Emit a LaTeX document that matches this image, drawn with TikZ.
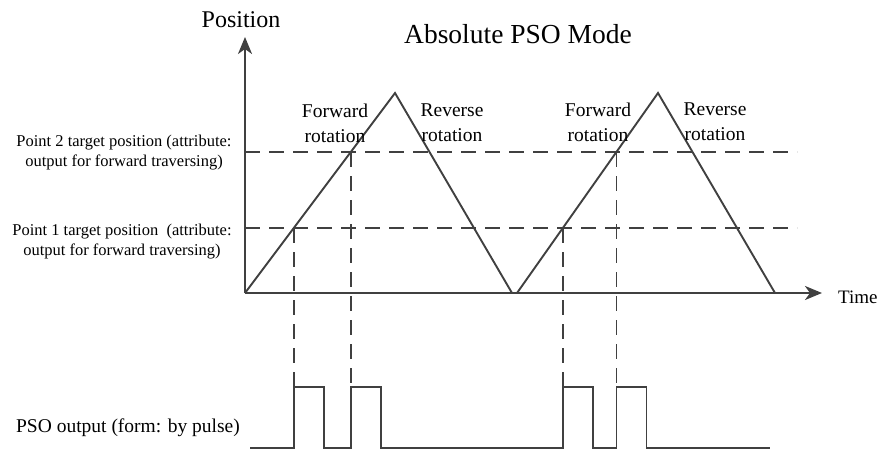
\documentclass[tikz,border=0pt]{standalone}
\usepackage{fontspec}
\setmainfont{Liberation Serif}
\usepackage{tikz}
\usetikzlibrary{arrows.meta, positioning}
\definecolor{trazo}{HTML}{404040}

\begin{document}
\begin{tikzpicture}[
  x=1pt, y=-1pt,
  eje/.style={-{Stealth[length=17pt, width=14pt, inset=5pt]}, line width=2.2pt, trazo},
  onda/.style={line width=1.9pt, trazo},
  guia/.style={line width=1.9pt, trazo, dash pattern=on 15pt off 9pt},
  pulso/.style={line width=1.9pt, trazo},
  etiq/.style={align=center, inner sep=0pt, font=\fontsize{19.5}{25}\selectfont},
  nivel/.style={align=center, inner sep=0pt, font=\fontsize{16.5}{20}\selectfont},
]
\useasboundingbox (0,0) rectangle (882,452);

% Ejes
\coordinate (O) at (245,293);
\coordinate (ytip) at (245,37);
\coordinate (xtip) at (822,293);
\draw[eje] (O) -- (ytip);
\draw[eje] (O) -- (xtip);
\node[inner sep=0pt, font=\fontsize{24}{28}\selectfont] (pos) at (241,20) {Position};
\node[inner sep=0pt, anchor=west, font=\fontsize{19}{22}\selectfont] (time) at (838,297) {Time};
\node[inner sep=0pt, font=\fontsize{27.5}{32}\selectfont] (titulo) at (518,34) {Absolute PSO Mode};

% Onda triangular
\coordinate (pk1) at (395,93);
\coordinate (v1) at (512,293);
\coordinate (s2) at (517,293);
\coordinate (pk2) at (658,93);
\coordinate (v2) at (775,293);
\draw[onda] (O) -- (pk1) -- (v1);
\draw[onda] (s2) -- (pk2) -- (v2);

% Niveles objetivo
\coordinate (n2a) at (245,152);
\coordinate (n2b) at (797,152);
\coordinate (n1a) at (245,228);
\coordinate (n1b) at (797,228);
\draw[guia] (n2a) -- (n2b);
\draw[guia] (n1a) -- (n1b);
\node[nivel] (lab2) at (124,153) {Point 2 target position (attribute:\\output for forward traversing)};
\node[nivel] (lab1) at (122,242) {Point 1 target position\ \ (attribute:\\output for forward traversing)};

% Sentidos de giro
\node[etiq] (fw1) at (335,123) {Forward\\rotation};
\node[etiq] (rv1) at (452,123) {Reverse\\rotation};
\node[etiq] (fw2) at (598,122) {Forward\\rotation};
\node[etiq] (rv2) at (715,122) {Reverse\\rotation};

% Cruces con los niveles
\coordinate (c11) at (intersection of O--pk1 and n1a--n1b);
\coordinate (c12) at (intersection of O--pk1 and n2a--n2b);
\coordinate (c21) at (intersection of s2--pk2 and n1a--n1b);
\coordinate (c22) at (intersection of s2--pk2 and n2a--n2b);

% Salida PSO
\coordinate (bajo) at (250,448);
\coordinate (alto) at (250,387);
\coordinate (fin) at (770,448);
\foreach \c in {c11, c12, c21, c22}
  \draw[guia] (\c) -- (\c |- alto);
\draw[pulso] (bajo) -- (c11 |- bajo) -- (c11 |- alto) -- ++(30,0) -- ++(0,61)
  -- (c12 |- bajo) -- (c12 |- alto) -- ++(30,0) -- ++(0,61)
  -- (c21 |- bajo) -- (c21 |- alto) -- ++(30,0) -- ++(0,61)
  -- (c22 |- bajo) -- (c22 |- alto) -- ++(30,0) -- ++(0,61) -- (fin);
\node[inner sep=0pt, font=\fontsize{19.5}{24}\selectfont] (pso) at (128,428) {PSO output (form: by pulse)};

\end{tikzpicture}
\end{document}
